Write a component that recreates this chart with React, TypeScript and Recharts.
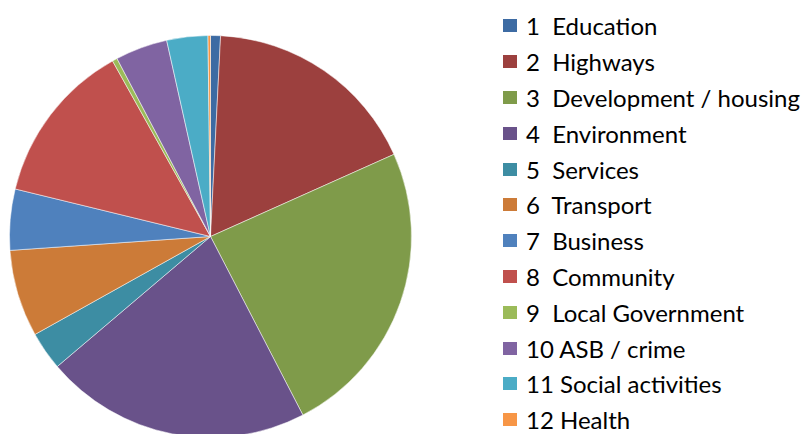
import { Cell, Legend, Pie, PieChart } from 'recharts'

const categories = [
  '1  Education',
  '2  Highways',
  '3  Development / housing',
  '4  Environment',
  '5  Services',
  '6  Transport',
  '7  Business',
  '8  Community',
  '9  Local Government',
  '10 ASB / crime',
  '11 Social activities',
  '12 Health',
]

const shares = [0.8, 17.5, 24.1, 21.4, 3.1, 7.0, 4.9, 13.1, 0.4, 4.2, 3.3, 0.2]

const colors = [
  '#3D6BA3', '#9C403E', '#7F9B4A', '#69528A', '#3D8DA3', '#CC7B38',
  '#4F81BD', '#C0504D', '#9BBB59', '#8064A2', '#4BACC6', '#F79646',
]

const data = categories.map((name, i) => ({ name, value: shares[i] }))

// Excel-style legend: square swatch, then label, fixed row pitch, data order
const renderLegend = (props: any) => {
  const payload = [...(props.payload || [])].sort(
    (a: any, b: any) => categories.indexOf(a.value) - categories.indexOf(b.value)
  )
  return (
    <div>
      {payload.map((entry: any, i: number) => (
        <div
          key={i}
          style={{ display: 'flex', alignItems: 'center', height: 35.8, whiteSpace: 'pre' }}
        >
          <span
            style={{
              display: 'inline-block',
              width: 14,
              height: 13,
              background: entry.color,
              marginRight: 9,
            }}
          />
          <span style={{ fontFamily: 'Lato', fontSize: 24, color: '#000' }}>{entry.value}</span>
        </div>
      ))}
    </div>
  )
}

export default function App() {
  return (
    <div style={{ position: 'absolute', left: 0, top: 0, background: '#fff' }}>
      <PieChart width={805} height={434} margin={{ top: 0, right: 0, bottom: 0, left: 0 }}>
        <Pie
          data={data}
          dataKey="value"
          nameKey="name"
          cx={210.5}
          cy={236.5}
          outerRadius={201}
          startAngle={90}
          endAngle={-270}
          stroke="#ffffff"
          strokeWidth={0.5}
          isAnimationActive={false}
        >
          {data.map((_, i) => (
            <Cell key={i} fill={colors[i]} />
          ))}
        </Pie>
        <Legend
          layout="vertical"
          content={renderLegend}
          wrapperStyle={{ left: 503, top: 8, width: 302 }}
        />
      </PieChart>
    </div>
  )
}
